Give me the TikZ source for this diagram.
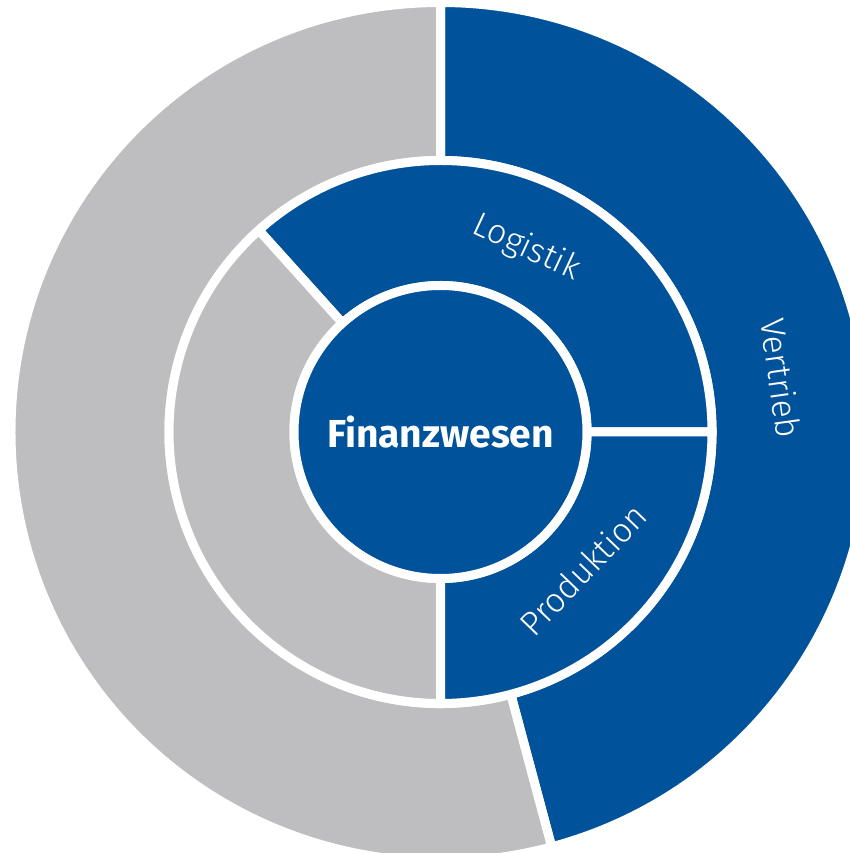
\documentclass[tikz,border=0pt]{standalone}
\usepackage{fontspec}
\setmainfont{Fira Sans}
\newfontfamily\lightfont{Fira Sans Light}
\usepackage{tikz}
\usetikzlibrary{positioning}
\definecolor{fblue}{RGB}{0,83,155}
\definecolor{fgray}{RGB}{190,190,192}

\begin{document}
\begin{tikzpicture}[x=1pt, y=1pt,
    sector/.style={draw=white, line width=9pt, line join=miter},
    ringtext/.style={text=white, inner sep=0pt, font=\lightfont\fontsize{34}{34}\selectfont}]
                \clip (-440.5,-421) rectangle (409.5,432);
                \fill[white] (-440.5,-421) rectangle (409.5,432);
                \foreach \a/\b/\ri/\ro/\c in {-75/90/271.5/429.5/fblue, 90/285/271.5/429.5/fgray,
                    0/132/146.5/271.5/fblue, 132/270/146.5/271.5/fgray, -90/0/146.5/271.5/fblue}
                    \filldraw[sector, fill=\c] (\a:\ro) arc[start angle=\a, end angle=\b, radius=\ro]
                        -- (\b:\ri) arc[start angle=\b, end angle=\a, radius=\ri] -- cycle;
                \filldraw[sector, fill=fblue] (0,0) circle[radius=146.5];
                \node[text=white, font=\bfseries\fontsize{39}{39}\selectfont](finanz) at (0,0){Finanzwesen};
                \node[ringtext, rotate=-25](logistik) at (65:203){Logistik};
                \node[ringtext, rotate=-82](vertrieb) at (9:345){Vertrieb};
                \node[ringtext, rotate=46](produktion) at (-44:198){Produktion};
            \end{tikzpicture}
\end{document}
